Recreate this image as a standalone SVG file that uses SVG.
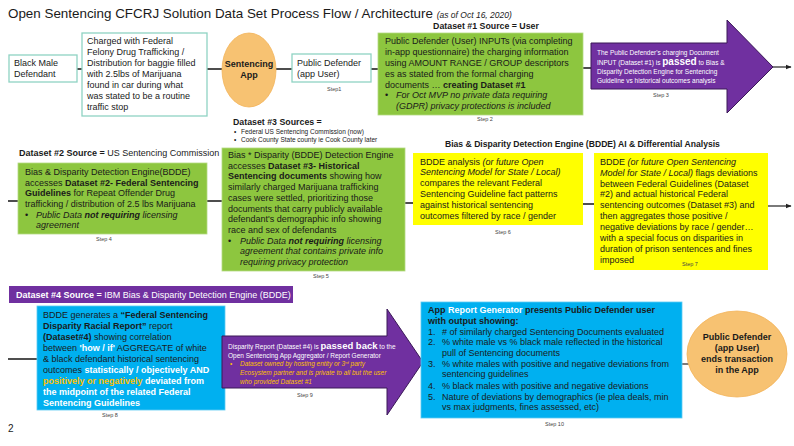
<svg xmlns="http://www.w3.org/2000/svg" width="794" height="446" viewBox="0 0 794 446">
<style>
text{font-family:"Liberation Sans",Arial,sans-serif;fill:#1a1a1a}
.t{font-size:9px}
.b{font-weight:bold}
.i{font-style:italic}
.s{font-size:5.5px;fill:#444}
.w{fill:#ffffff}
.y{fill:#ffc000}
.sm{font-size:6.5px}
.wbox{fill:#ffffff;stroke:#8fd3c3;stroke-width:1.3}
.gbox{fill:#8dc63f;stroke:#b4da83;stroke-width:0.8}
.ybox{fill:#ffff00}
.bbox{fill:#00b0f0;stroke:#5ccbf3;stroke-width:0.8}
.arr{fill:#7030a0;stroke:#3a1857;stroke-width:1}
.ell{fill:#f7c272;stroke:#f2b45a;stroke-width:0.8}
.ln{stroke:#222;stroke-width:1.6;fill:none}
.la{stroke:#222;stroke-width:1.2;fill:none;marker-end:url(#ah)}
</style>
<defs>
<marker id="ah" viewBox="0 0 10 10" refX="9" refY="5" markerWidth="5" markerHeight="5" orient="auto" markerUnits="strokeWidth">
<path d="M0,1 L10,5 L0,9 z" fill="#222"/>
</marker>
</defs>
<rect width="794" height="446" fill="#ffffff"/>

<text x="8" y="18" style="font-size:13.4px">Open Sentencing CFCRJ Solution Data Set Process Flow / Architecture <tspan class="i" style="font-size:8.5px">(as of Oct 16, 2020)</tspan></text>

<g id="connectors">
<line class="ln" x1="77" y1="69" x2="82" y2="69"/>
<line class="ln" x1="207" y1="69" x2="222" y2="69"/>
<line class="ln" x1="276" y1="69" x2="292" y2="69"/>
<line class="ln" x1="371" y1="69" x2="378" y2="69"/>
<line class="ln" x1="583" y1="68" x2="592" y2="68"/>
<line class="la" x1="773" y1="67" x2="791" y2="67"/>
<line class="ln" x1="8" y1="201" x2="18" y2="201"/>
<line class="ln" x1="207" y1="201" x2="222" y2="201"/>
<line class="ln" x1="405" y1="203" x2="413" y2="203"/>
<line class="ln" x1="583" y1="204" x2="594" y2="204"/>
<line class="la" x1="768" y1="206" x2="791" y2="206"/>
<line class="ln" x1="8" y1="359" x2="37" y2="359"/>
<line class="la" x1="682" y1="364" x2="706" y2="364"/>
</g>

<g id="n-defendant">
<rect class="wbox" x="9" y="55" width="68" height="27"/>
<text class="t" x="14" y="66">Black Male</text>
<text class="t" x="14" y="77">Defendant</text>
</g>

<g id="n-charged">
<rect class="wbox" x="82" y="33" width="125" height="83"/>
<text class="t" x="87" y="44">Charged with Federal</text>
<text class="t" x="87" y="55">Felony Drug Trafficking /</text>
<text class="t" x="87" y="66">Distribution for  baggie filled</text>
<text class="t" x="87" y="77">with 2.5lbs of  Marijuana</text>
<text class="t" x="87" y="88">found in car during what</text>
<text class="t" x="87" y="99">was stated to be a routine</text>
<text class="t" x="87" y="110">traffic stop</text>
</g>

<g id="n-app">
<ellipse class="ell" cx="249" cy="70" rx="27" ry="37"/>
<text class="t b" x="249" y="67" text-anchor="middle">Sentencing</text>
<text class="t b" x="249" y="78" text-anchor="middle">App</text>
</g>

<g id="n-pd">
<rect class="wbox" x="292" y="54" width="79" height="28"/>
<text class="t" x="297" y="66">Public Defender</text>
<text class="t" x="297" y="77">(app User)</text>
<text class="s" x="327" y="91">Step1</text>
</g>

<g id="n-step2">
<text class="t b" x="486" y="29" text-anchor="middle" style="font-size:8.8px">Dataset #1 Source = User</text>
<rect class="gbox" x="378" y="33" width="205" height="82"/>
<text class="t" x="385" y="44">Public Defender (User) INPUTs (via completing</text>
<text class="t" x="385" y="55">in-app questionnaire) the charging information</text>
<text class="t" x="385" y="66">using AMOUNT RANGE / GROUP descriptors</text>
<text class="t" x="385" y="77">es as stated from the formal charging</text>
<text class="t" x="385" y="88">documents … <tspan class="b">creating Dataset #1</tspan></text>
<text class="t" x="385" y="98">•</text>
<text class="t i" x="396" y="98">For Oct MVP no private data requiring</text>
<text class="t i" x="396" y="109">(GDPR) privacy protections is included</text>
<text class="s" x="477" y="121">Step 2</text>
</g>

<g id="n-step3">
<polygon class="arr" points="591,43 727,43 727,20 773,67 727,113 727,89 591,89"/>
<text class="sm w" x="597" y="55">The Public Defender's  charging Document</text>
<text class="sm w" x="597" y="65">INPUT (Dataset #1) is <tspan class="b" style="font-size:10px">passed</tspan> to  Bias &amp;</text>
<text class="sm w" x="597" y="74">Disparity Detection Engine  for Sentencing</text>
<text class="sm w" x="597" y="83">Guideline vs historical outcomes analysis</text>
<text class="s" x="653" y="97">Step 3</text>
</g>

<g id="n-step4">
<text class="t" x="19" y="156"><tspan class="b">Dataset #2 Source =</tspan> US Sentencing Commission</text>
<rect class="gbox" x="18" y="163" width="189" height="71"/>
<text class="t" x="25" y="175">Bias &amp; Disparity Detection Engine(BDDE)</text>
<text class="t" x="25" y="186">accesses <tspan class="b">Dataset #2- Federal Sentencing</tspan></text>
<text class="t" x="25" y="196"><tspan class="b">Guidelines</tspan> for Repeat Offender Drug</text>
<text class="t" x="25" y="207">trafficking / distribution of  2.5 lbs Marijuana</text>
<text class="t" x="25" y="218">•</text>
<text class="t i" x="36" y="218">Public Data <tspan class="b">not requiring</tspan> licensing</text>
<text class="t i" x="36" y="228">agreement</text>
<text class="s" x="96" y="241">Step 4</text>
</g>

<g id="n-step5">
<text class="t b" x="233" y="125" style="font-size:8.8px">Dataset #3 Sources =</text>
<text class="sm" x="234" y="134">•</text>
<text class="sm" x="241" y="134">Federal US Sentencing Commission (now)</text>
<text class="sm" x="234" y="142">•</text>
<text class="sm" x="241" y="142">Cook County State county ie Cook County later</text>
<rect class="gbox" x="222" y="148" width="183" height="123"/>
<text class="t" x="228" y="158">Bias * Disparity (BDDE) Detection Engine</text>
<text class="t" x="228" y="169">accesses <tspan class="b">Dataset #3- Historical</tspan></text>
<text class="t" x="228" y="179"><tspan class="b">Sentencing documents</tspan> showing how</text>
<text class="t" x="228" y="190">similarly charged Marijuana trafficking</text>
<text class="t" x="228" y="201">cases were settled, prioritizing those</text>
<text class="t" x="228" y="212">documents  that carry publicly available</text>
<text class="t" x="228" y="222">defendant's demographic  info showing</text>
<text class="t" x="228" y="233">race and sex of defendants</text>
<text class="t" x="228" y="244">•</text>
<text class="t i" x="240" y="244">Public Data <tspan class="b">not requiring</tspan> licensing</text>
<text class="t i" x="240" y="254">agreement that contains private info</text>
<text class="t i" x="240" y="265">requiring privacy protection</text>
<text class="s" x="313" y="278">Step 5</text>
</g>

<text class="t b" x="445" y="147" style="font-size:8.6px">Bias &amp; Disparity Detection Engine (BDDE) AI &amp; Differential Analysis</text>

<g id="n-step6">
<rect class="ybox" x="413" y="153" width="170" height="72"/>
<text class="t" x="420" y="165">BDDE analysis <tspan class="i">(or future Open</tspan></text>
<text class="t i" x="420" y="175">Sentencing Model for State / Local)</text>
<text class="t" x="420" y="186">compares the relevant Federal</text>
<text class="t" x="420" y="197">Sentencing Guideline fact patterns</text>
<text class="t" x="420" y="208">against  historical sentencing</text>
<text class="t" x="420" y="219">outcomes filtered by race / gender</text>
<text class="s" x="495" y="234">Step 6</text>
</g>

<g id="n-step7">
<rect class="ybox" x="594" y="153" width="174" height="117"/>
<text class="t" x="600" y="165">BDDE <tspan class="i">(or future Open Sentencing</tspan></text>
<text class="t" x="600" y="176"><tspan class="i">Model for State / Local)</tspan> flags deviations</text>
<text class="t" x="600" y="187">between Federal Guidelines (Dataset</text>
<text class="t" x="600" y="197">#2) and actual historical Federal</text>
<text class="t" x="600" y="208">sentencing outcomes (Dataset #3) and</text>
<text class="t" x="600" y="219">then aggregates those positive /</text>
<text class="t" x="600" y="230">negative deviations by race / gender…</text>
<text class="t" x="600" y="241">with a special focus on disparities in</text>
<text class="t" x="600" y="252">duration of prison sentences and fines</text>
<text class="t" x="600" y="263">imposed</text>
<text class="s" x="682" y="266">Step 7</text>
</g>

<g id="n-step8">
<rect x="9" y="286" width="284" height="17" fill="#7030a0"/>
<text class="t w" x="16" y="298"><tspan class="b">Dataset #4 Source =</tspan> IBM Bias &amp; Disparity Detection Engine  (BDDE)</text>
<rect class="bbox" x="37" y="306" width="188" height="104"/>
<text class="t" x="43" y="318">BDDE generates a <tspan class="b">“Federal Sentencing</tspan></text>
<text class="t" x="43" y="329"><tspan class="b">Disparity Racial Report”</tspan> report</text>
<text class="t" x="43" y="340"><tspan class="b">(Dataset#4)</tspan>  showing correlation</text>
<text class="t" x="43" y="351">between  <tspan class="b w">'how / if'</tspan> AGGREGATE  of white</text>
<text class="t" x="43" y="362">&amp; black defendant historical sentencing</text>
<text class="t" x="43" y="373">outcomes  <tspan class="b w">statistically / objectively AND</tspan></text>
<text class="t b" x="43" y="384"><tspan class="y">positively or negatively</tspan><tspan class="w"> deviated from</tspan></text>
<text class="t b w" x="43" y="395">the midpoint of the related Federal</text>
<text class="t b w" x="43" y="406">Sentencing Guidelines</text>
<text class="s" x="102" y="417">Step 8</text>
</g>

<g id="n-step9">
<polygon class="arr" points="222,336 387,336 387,309 423,362 387,415 387,388 222,388"/>
<text class="sm w" x="228" y="349">Disparity Report  (Dataset #4) is <tspan class="b" style="font-size:9.5px">passed back</tspan> to the</text>
<text class="sm w" x="228" y="358">Open Sentencing  App Aggregator  / Report  Generator</text>
<text class="sm y" x="230" y="366">•</text>
<text class="sm i y" x="240" y="366">Dataset owned  by hosting entity or 3<tspan style="font-size:4px" dy="-2.5">rd</tspan><tspan dy="2.5"> party</tspan></text>
<text class="sm i y" x="240" y="375">Ecosystem partner and is private  to all but the user</text>
<text class="sm i y" x="240" y="384">who provided  Dataset #1</text>
<text class="s" x="297" y="397">Step 9</text>
</g>

<g id="n-step10">
<rect class="bbox" x="421" y="302" width="261" height="116"/>
<text class="t b" x="428" y="313">App <tspan class="w">Report Generator</tspan> presents Public Defender user</text>
<text class="t b" x="428" y="324">with output showing:</text>
<text class="t" x="428" y="335">1.</text><text class="t" x="442" y="335"># of similarly charged Sentencing Documents evaluated</text>
<text class="t" x="428" y="345">2.</text><text class="t" x="442" y="345">% white male vs % black male reflected in the historical</text>
<text class="t" x="442" y="356">pull of Sentencing documents</text>
<text class="t" x="428" y="367">3.</text><text class="t" x="442" y="367">% white males with positive and negative deviations from</text>
<text class="t" x="442" y="377">sentencing guidelines</text>
<text class="t" x="428" y="389">4.</text><text class="t" x="442" y="389">% black males with positive and negative  deviations</text>
<text class="t" x="428" y="400">5.</text><text class="t" x="442" y="400">Nature of deviations by demographics (ie plea deals, min</text>
<text class="t" x="442" y="410">vs max judgments, fines assessed, etc)</text>
<text class="s" x="545" y="426">Step 10</text>
</g>

<g id="n-end">
<ellipse class="ell" cx="737" cy="354" rx="50" ry="43"/>
<text class="t b" x="737" y="340" text-anchor="middle">Public Defender</text>
<text class="t b" x="737" y="351" text-anchor="middle">(app User)</text>
<text class="t b" x="737" y="362" text-anchor="middle">ends transaction</text>
<text class="t b" x="737" y="373" text-anchor="middle">in the App</text>
</g>

<text x="8" y="432" style="font-size:10px">2</text>
</svg>
